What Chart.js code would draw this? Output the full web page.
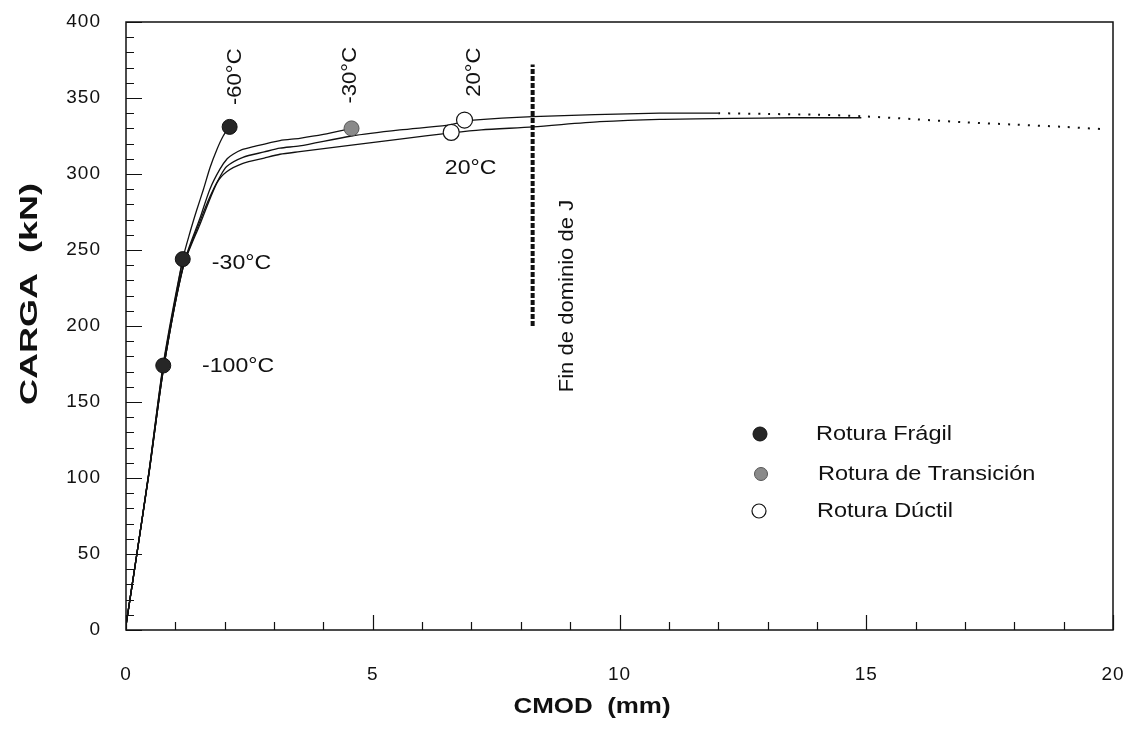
<!DOCTYPE html>
<html>
<head>
<meta charset="utf-8">
<script src="https://cdn.jsdelivr.net/npm/chart.js@4.4.1/dist/chart.umd.min.js"></script>
<style>
html,body{margin:0;padding:0;background:#fff;}
#wrap{width:1128px;height:730px;position:relative;}
</style>
</head>
<body>
<div id="wrap"><canvas id="c" width="1128" height="730"></canvas></div>
<script>
// ---------- data ----------
const curveM100X = [0, 0.22, 0.47, 0.755];
const curveM100Y = [3, 50, 105, 174];

const curveM30FX = [0, 0.22, 0.47, 0.755, 1.15];
const curveM30FY = [3, 50, 105, 174, 244];

const curveM60X = [0, 0.22, 0.47, 0.755, 1.15, 1.30, 1.43, 1.57, 1.70, 1.84, 1.97, 2.10];
const curveM60Y = [3, 50, 105, 175, 244, 262, 276, 290, 304, 316, 325, 331];

const curveM30TX = [0, 0.22, 0.47, 0.76, 1.16, 1.50, 1.70, 1.90, 2.05, 2.17, 2.35, 2.58, 3.12, 3.52, 4.00, 4.57];
const curveM30TY = [3, 50, 104, 172, 240, 271, 290, 303, 310, 313, 316, 318, 322, 323.5, 326, 330];

const curve20AX = [0, 0.22, 0.47, 0.76, 1.16, 1.50, 1.70, 1.90, 2.04, 2.37, 2.80, 3.12, 3.52, 4.57, 5.55, 6.49, 6.86, 7.04, 8.24, 9.50, 10.81, 12.0];
const curve20AY = [3, 50, 104, 172, 239, 269, 285, 298, 305, 311, 314.5, 317, 318.5, 325, 329, 332, 334.5, 335.5, 337.7, 339, 340, 340];

const curve20BX = [0, 0.22, 0.47, 0.76, 1.16, 1.50, 1.84, 2.04, 2.37, 2.80, 3.12, 3.52, 4.57, 5.55, 6.59, 7.20, 8.25, 9.60, 10.81, 12.29, 13.5, 14.9];
const curve20BY = [3, 50, 104, 172, 239, 267, 294, 301.5, 307, 310.5, 313, 314.7, 319, 323, 327, 329, 331, 334.4, 336, 336.6, 337, 337];

const extX = [12.0, 13.0, 14.0, 14.9, 16.0, 17.0, 18.0, 19.0, 19.85];
const extY = [340, 339.5, 339, 338, 336, 334, 332.5, 331, 329.4];

const fragilX = [0.755, 1.15, 2.10];
const fragilY = [174, 244, 331];
const transX = [4.57];
const transY = [330];
const ductilX = [6.59, 6.86];
const ductilY = [327.4, 335.5];

const finX = [8.24, 8.24];
const finY = [200, 372];

const xTicks = [0, 5, 10, 15, 20];
const yTicks = [0, 50, 100, 150, 200, 250, 300, 350, 400];

const xTitle = 'CMOD  (mm)';
const yTitle = 'CARGA  (kN)';
const legendLabels = ['Rotura Frágil', 'Rotura de Transición', 'Rotura Dúctil'];
const noteTexts = ['-60°C', '-30°C', '20°C', '-30°C', '-100°C', '20°C', 'Fin de dominio de J'];
const noteX = [2.21, 4.54, 7.05, 1.74, 1.54, 6.46, 8.94];
const noteY = [364, 365, 367, 241.4, 173.7, 304, 219.7];
// ----------------------------------------------------

const FONT = '"Liberation Sans", Arial, Helvetica, sans-serif';
const pts = (xs, ys) => xs.map((x, i) => ({x: x, y: ys[i]}));
const noteRot = [-90, -90, -90, 0, 0, 0, -90];

function line(xs, ys, extra) {
  return Object.assign({
    data: pts(xs, ys), showLine: true, borderColor: '#111', borderWidth: 1.3,
    pointRadius: 0, fill: false, tension: 0.25, order: 2
  }, extra || {});
}

const datasets = [
  {label: legendLabels[0], data: pts(fragilX, fragilY), pointRadius: 7.5, pointBackgroundColor: '#262626',
   pointBorderColor: '#111', pointBorderWidth: 1, showLine: false, order: 0},
  {label: legendLabels[1], data: pts(transX, transY), pointRadius: 7.5, pointBackgroundColor: '#8a8a8a',
   pointBorderColor: '#555', pointBorderWidth: 1, showLine: false, order: 0},
  {label: legendLabels[2], data: pts(ductilX, ductilY), pointRadius: 8, pointBackgroundColor: '#fff',
   pointBorderColor: '#111', pointBorderWidth: 1.2, showLine: false, order: 0},
  line(curveM100X, curveM100Y, {label: 'c1'}),
  line(curveM30FX, curveM30FY, {label: 'c2'}),
  line(curveM60X, curveM60Y, {label: 'c3'}),
  line(curveM30TX, curveM30TY, {label: 'c4'}),
  line(curve20AX, curve20AY, {label: 'c5'}),
  line(curve20BX, curve20BY, {label: 'c6'}),
  line(extX, extY, {label: 'ext', borderDash: [2, 8], borderWidth: 2, tension: 0.3}),
  line(finX, finY, {label: 'fin', borderDash: [5, 2], borderWidth: 4, tension: 0, borderCapStyle: 'butt'})
];

function setSpacing(ctx, v) { if ('letterSpacing' in ctx) ctx.letterSpacing = v; }

// draw text stretched along its own direction (the reference glyphs are wide)
function stretchText(ctx, text, x, y, rotDeg, sx, align) {
  ctx.save();
  ctx.translate(x, y);
  if (rotDeg) ctx.rotate(rotDeg * Math.PI / 180);
  ctx.scale(sx, 1);
  ctx.textAlign = align;
  ctx.textBaseline = 'middle';
  ctx.fillText(text, 0, 0);
  ctx.restore();
}

const decor = {
  id: 'decor',
  beforeDraw(chart) { setSpacing(chart.ctx, '1px'); },
  afterDraw(chart) { setSpacing(chart.ctx, '0px'); },
  afterDatasetsDraw(chart) {
    const ctx = chart.ctx, a = chart.chartArea, xs = chart.scales.x, ys = chart.scales.y;
    ctx.save();
    setSpacing(ctx, '0px');
    // box
    ctx.strokeStyle = '#111';
    ctx.lineWidth = 1.5;
    ctx.strokeRect(a.left, a.top, a.right - a.left, a.bottom - a.top);
    // inward ticks
    ctx.lineWidth = 1.2;
    ctx.beginPath();
    for (let v = xs.min; v <= xs.max; v += 1) {
      const p = Math.round(xs.getPixelForValue(v)) + 0.5;
      const len = (v % 5 === 0) ? 15 : 8;
      ctx.moveTo(p, a.bottom); ctx.lineTo(p, a.bottom - len);
    }
    for (let v = ys.min; v <= ys.max; v += 10) {
      const p = Math.round(ys.getPixelForValue(v)) + 0.5;
      const len = (v % 50 === 0) ? 16 : 8;
      ctx.moveTo(a.left, p); ctx.lineTo(a.left + len, p);
    }
    ctx.stroke();
    // annotations
    ctx.fillStyle = '#111';
    ctx.font = '21px ' + FONT;
    for (let i = 0; i < noteTexts.length; i++) {
      const px = xs.getPixelForValue(noteX[i]);
      const py = ys.getPixelForValue(noteY[i]);
      if (noteRot[i]) stretchText(ctx, noteTexts[i], px, py, noteRot[i], 1.05, 'center');
      else stretchText(ctx, noteTexts[i], px, py, 0, 1.1, 'left');
    }
    // legend (uses the marker datasets)
    const legX = [760, 761, 759], legY = [434, 474, 511], txtX = [816, 818, 817];
    ctx.font = '21px ' + FONT;
    for (let i = 0; i < 3; i++) {
      const ds = chart.data.datasets[i];
      ctx.beginPath();
      ctx.arc(legX[i], legY[i], i === 1 ? 6.5 : 7, 0, Math.PI * 2);
      ctx.fillStyle = ds.pointBackgroundColor;
      ctx.fill();
      ctx.lineWidth = ds.pointBorderWidth;
      ctx.strokeStyle = ds.pointBorderColor;
      ctx.stroke();
      ctx.fillStyle = '#111';
      stretchText(ctx, ds.label, txtX[i], legY[i], 0, 1.12, 'left');
    }
    // axis titles
    ctx.fillStyle = '#111';
    ctx.font = 'bold 22px ' + FONT;
    stretchText(ctx, xTitle, 592, 707, 0, 1.18, 'center');
    ctx.font = 'bold 24px ' + FONT;
    stretchText(ctx, yTitle, 30, 294, -90, 1.5, 'center');
    ctx.restore();
  }
};

function zeroPad(s) { s.paddingTop = 0; s.paddingBottom = 0; s.paddingLeft = 0; s.paddingRight = 0; }

new Chart(document.getElementById('c'), {
  type: 'scatter',
  data: {datasets: datasets},
  options: {
    responsive: false,
    animation: false,
    devicePixelRatio: 1,
    layout: {padding: {left: 0, right: 15, top: 22, bottom: 0}},
    plugins: {legend: {display: false}, tooltip: {enabled: false}},
    scales: {
      x: {
        type: 'linear', min: 0, max: 20,
        afterFit: s => { s.height = 100; zeroPad(s); },
        afterBuildTicks: s => { s.ticks = xTicks.map(v => ({value: v})); },
        grid: {display: false, drawTicks: false},
        border: {display: false},
        ticks: {color: '#111', font: {family: FONT, size: 19}, padding: 33, maxRotation: 0},
        title: {display: false}
      },
      y: {
        type: 'linear', min: 0, max: 400,
        afterFit: s => { s.width = 126; zeroPad(s); },
        afterBuildTicks: s => { s.ticks = yTicks.map(v => ({value: v})); },
        grid: {display: false, drawTicks: false},
        border: {display: false},
        ticks: {color: '#111', font: {family: FONT, size: 19}, padding: 25},
        title: {display: false}
      }
    }
  },
  plugins: [decor]
});
</script>
</body>
</html>
